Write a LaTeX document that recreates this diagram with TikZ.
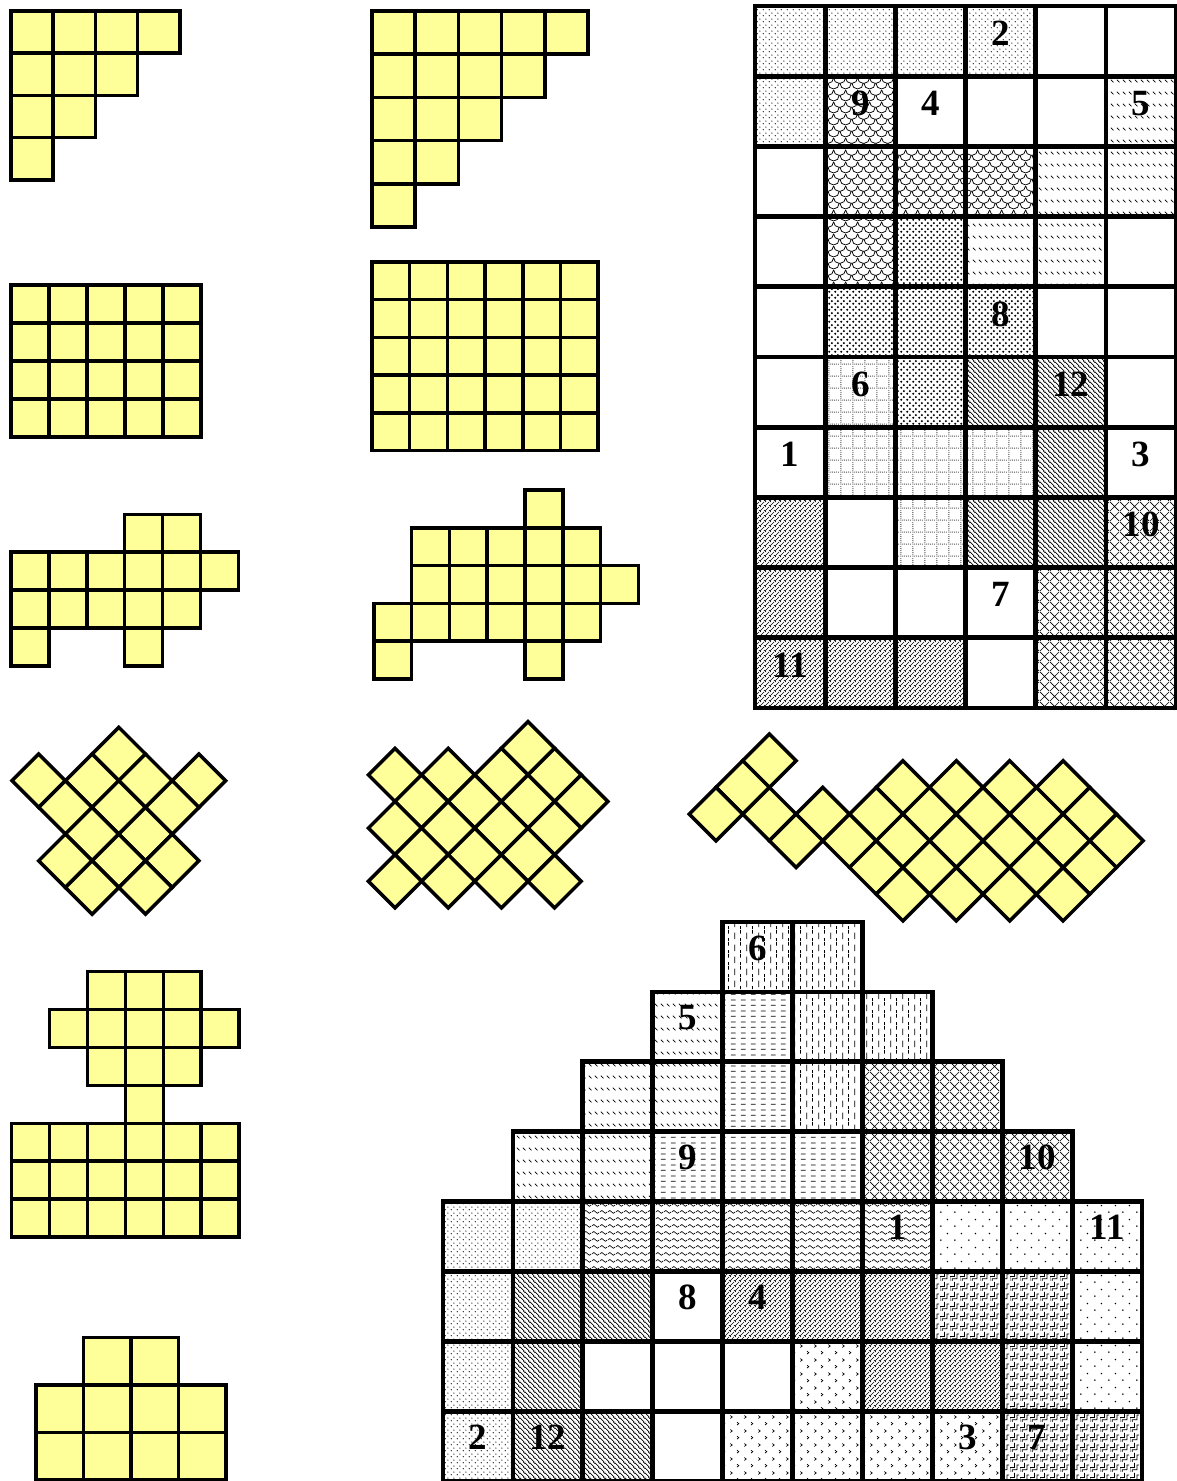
\documentclass[tikz,border=0pt]{standalone}
\usepackage{fontspec}
\setmainfont{Liberation Serif}
\usetikzlibrary{patterns}
\definecolor{yelc}{RGB}{255,255,153}

% ---------- custom patterns ----------
\pgfdeclarepatternformonly{fdots}{\pgfpointorigin}{\pgfpoint{6pt}{6pt}}{\pgfpoint{6pt}{6pt}}{%
  \pgfpathcircle{\pgfpoint{1.5pt}{1.5pt}}{0.7pt}%
  \pgfpathcircle{\pgfpoint{4.5pt}{4.5pt}}{0.7pt}%
  \pgfusepath{fill}}
\pgfdeclarepatternformonly{bdots}{\pgfpointorigin}{\pgfpoint{6pt}{6pt}}{\pgfpoint{6pt}{6pt}}{%
  \pgfpathcircle{\pgfpoint{1.5pt}{1.5pt}}{1.3pt}%
  \pgfpathcircle{\pgfpoint{4.5pt}{4.5pt}}{1.3pt}%
  \pgfusepath{fill}}
\pgfdeclarepatternformonly{sdots}{\pgfpointorigin}{\pgfpoint{14pt}{14pt}}{\pgfpoint{14pt}{14pt}}{%
  \pgfpathcircle{\pgfpoint{3pt}{3pt}}{0.9pt}%
  \pgfpathcircle{\pgfpoint{10pt}{10pt}}{0.9pt}%
  \pgfusepath{fill}}
\pgfdeclarepatternformonly{gdots}{\pgfpointorigin}{\pgfpoint{12pt}{12pt}}{\pgfpoint{12pt}{12pt}}{%
  \pgfpathcircle{\pgfpoint{1pt}{1pt}}{0.55pt}%
  \pgfpathcircle{\pgfpoint{1pt}{3pt}}{0.55pt}%
  \pgfpathcircle{\pgfpoint{1pt}{5pt}}{0.55pt}%
  \pgfpathcircle{\pgfpoint{1pt}{7pt}}{0.55pt}%
  \pgfpathcircle{\pgfpoint{1pt}{9pt}}{0.55pt}%
  \pgfpathcircle{\pgfpoint{1pt}{11pt}}{0.55pt}%
  \pgfpathcircle{\pgfpoint{3pt}{1pt}}{0.55pt}%
  \pgfpathcircle{\pgfpoint{5pt}{1pt}}{0.55pt}%
  \pgfpathcircle{\pgfpoint{7pt}{1pt}}{0.55pt}%
  \pgfpathcircle{\pgfpoint{9pt}{1pt}}{0.55pt}%
  \pgfpathcircle{\pgfpoint{11pt}{1pt}}{0.55pt}%
  \pgfusepath{fill}}
\pgfdeclarepatternformonly{scales}{\pgfpointorigin}{\pgfpoint{12pt}{12pt}}{\pgfpoint{12pt}{12pt}}{%
  \pgfsetlinewidth{0.8pt}%
  \pgfpathmoveto{\pgfpoint{0pt}{6pt}}\pgfpatharc{180}{360}{6pt}%
  \pgfpathmoveto{\pgfpoint{-6pt}{12pt}}\pgfpatharc{180}{360}{6pt}%
  \pgfpathmoveto{\pgfpoint{6pt}{12pt}}\pgfpatharc{180}{360}{6pt}%
  \pgfusepath{stroke}}
\pgfdeclarepatternformonly{ddash}{\pgfpointorigin}{\pgfpoint{6pt}{12pt}}{\pgfpoint{6pt}{12pt}}{%
  \pgfsetlinewidth{0.8pt}%
  \pgfpathmoveto{\pgfpoint{1pt}{10pt}}\pgfpathlineto{\pgfpoint{4pt}{7pt}}%
  \pgfusepath{stroke}}
\pgfdeclarepatternformonly{vdash}{\pgfpointorigin}{\pgfpoint{12pt}{12pt}}{\pgfpoint{12pt}{12pt}}{%
  \pgfsetlinewidth{0.8pt}%
  \pgfpathmoveto{\pgfpoint{3pt}{2pt}}\pgfpathlineto{\pgfpoint{3pt}{9pt}}%
  \pgfpathmoveto{\pgfpoint{9pt}{8pt}}\pgfpathlineto{\pgfpoint{9pt}{12pt}}%
  \pgfpathmoveto{\pgfpoint{9pt}{0pt}}\pgfpathlineto{\pgfpoint{9pt}{3pt}}%
  \pgfusepath{stroke}}
\pgfdeclarepatternformonly{hdash}{\pgfpointorigin}{\pgfpoint{10pt}{11pt}}{\pgfpoint{10pt}{11pt}}{%
  \pgfsetlinewidth{0.8pt}%
  \pgfpathmoveto{\pgfpoint{1pt}{3pt}}\pgfpathlineto{\pgfpoint{6pt}{3pt}}%
  \pgfpathmoveto{\pgfpoint{1pt}{8.5pt}}\pgfpathlineto{\pgfpoint{6pt}{8.5pt}}%
  \pgfusepath{stroke}}
\pgfdeclarepatternformonly{wave}{\pgfpointorigin}{\pgfpoint{8pt}{7pt}}{\pgfpoint{8pt}{7pt}}{%
  \pgfsetlinewidth{0.7pt}%
  \pgfpathmoveto{\pgfpoint{0pt}{3.5pt}}%
  \pgfpathsine{\pgfpoint{2pt}{1.6pt}}%
  \pgfpathcosine{\pgfpoint{2pt}{-1.6pt}}%
  \pgfpathsine{\pgfpoint{2pt}{-1.6pt}}%
  \pgfpathcosine{\pgfpoint{2pt}{1.6pt}}%
  \pgfusepath{stroke}}
\pgfdeclarepatternformonly{chev}{\pgfpointorigin}{\pgfpoint{14pt}{14pt}}{\pgfpoint{14pt}{14pt}}{%
  \pgfsetlinewidth{0.7pt}%
  \pgfpathmoveto{\pgfpoint{2.5pt}{11pt}}\pgfpathlineto{\pgfpoint{4.5pt}{9.5pt}}\pgfpathlineto{\pgfpoint{2.5pt}{8pt}}%
  \pgfpathmoveto{\pgfpoint{9.5pt}{4pt}}\pgfpathlineto{\pgfpoint{11.5pt}{2.5pt}}\pgfpathlineto{\pgfpoint{9.5pt}{1pt}}%
  \pgfusepath{stroke}}
\pgfdeclarepatternformonly{maze}{\pgfpointorigin}{\pgfpoint{10pt}{10pt}}{\pgfpoint{10pt}{10pt}}{%
  \pgfsetlinewidth{0.8pt}%
  \pgfpathmoveto{\pgfpoint{0pt}{0pt}}\pgfpathlineto{\pgfpoint{0pt}{5pt}}\pgfpathlineto{\pgfpoint{5pt}{5pt}}\pgfpathlineto{\pgfpoint{5pt}{10pt}}%
  \pgfpathmoveto{\pgfpoint{2.5pt}{0pt}}\pgfpathlineto{\pgfpoint{2.5pt}{2.5pt}}\pgfpathlineto{\pgfpoint{7.5pt}{2.5pt}}\pgfpathlineto{\pgfpoint{7.5pt}{7.5pt}}\pgfpathlineto{\pgfpoint{10pt}{7.5pt}}%
  \pgfusepath{stroke}}
\pgfdeclarepatternformonly{nelines}{\pgfpoint{0pt}{0pt}}{\pgfpoint{5pt}{5pt}}{\pgfpoint{5pt}{5pt}}{%
  \pgfsetlinewidth{0.8pt}%
  \pgfpathmoveto{\pgfpoint{0pt}{0pt}}\pgfpathlineto{\pgfpoint{5pt}{5pt}}%
  \pgfpathmoveto{\pgfpoint{-1pt}{4pt}}\pgfpathlineto{\pgfpoint{1pt}{6pt}}%
  \pgfpathmoveto{\pgfpoint{4pt}{-1pt}}\pgfpathlineto{\pgfpoint{6pt}{1pt}}%
  \pgfusepath{stroke}}
\pgfdeclarepatternformonly{nwlines}{\pgfpoint{0pt}{0pt}}{\pgfpoint{5pt}{5pt}}{\pgfpoint{5pt}{5pt}}{%
  \pgfsetlinewidth{0.8pt}%
  \pgfpathmoveto{\pgfpoint{0pt}{5pt}}\pgfpathlineto{\pgfpoint{5pt}{0pt}}%
  \pgfpathmoveto{\pgfpoint{-1pt}{1pt}}\pgfpathlineto{\pgfpoint{1pt}{-1pt}}%
  \pgfpathmoveto{\pgfpoint{4pt}{6pt}}\pgfpathlineto{\pgfpoint{6pt}{4pt}}%
  \pgfusepath{stroke}}
\pgfdeclarepatternformonly{dhatch}{\pgfpointorigin}{\pgfpoint{10pt}{10pt}}{\pgfpoint{10pt}{10pt}}{%
  \pgfsetlinewidth{0.7pt}%
  \pgfpathmoveto{\pgfpoint{0pt}{0pt}}\pgfpathlineto{\pgfpoint{10pt}{10pt}}%
  \pgfpathmoveto{\pgfpoint{0pt}{10pt}}\pgfpathlineto{\pgfpoint{10pt}{0pt}}%
  \pgfusepath{stroke}}

\tikzset{
  yel/.style={draw=black, fill=yelc, line width=3.5pt, line join=miter},
  bline/.style={draw=black, line width=4.8pt},
  lab/.style={font=\fontsize{37}{37}\selectfont\bfseries, inner sep=0pt},
  Pwh/.style={},
  Pfd/.style={pattern=fdots},
  Pbd/.style={pattern=bdots},
  Psd/.style={pattern=sdots},
  Pgd/.style={pattern=gdots},
  Psc/.style={pattern=scales},
  Pdd/.style={pattern=ddash},
  Pvd/.style={pattern=vdash},
  Phd/.style={pattern=hdash},
  Pwv/.style={pattern=wave},
  Pcv/.style={pattern=chev},
  Pmz/.style={pattern=maze},
  Pne/.style={pattern=nelines},
  Pnw/.style={pattern=nwlines},
  Pch/.style={pattern=dhatch}
}

\newcommand{\Ysq}[3]{\draw[yel] (#1,#2) rectangle ++(#3,#3);}
\newcommand{\Ydia}[3]{\draw[yel] (#1,#2) -- ++(#3,-#3) -- ++(#3,#3) -- ++(-#3,#3) -- cycle;}

\begin{document}
\begin{tikzpicture}[x=1pt,y=-1pt]
\useasboundingbox (0,0) rectangle (1176,1481);

% ---------- yellow square shapes ----------
\foreach \r/\cs in {0/{0,1,2,3},1/{0,1,2},2/{0,1},3/{0}}
  \foreach \c in \cs {\Ysq{11+\c*42.2}{11+\r*42.2}{42.2}}
\foreach \r/\cs in {0/{0,1,2,3,4},1/{0,1,2,3},2/{0,1,2},3/{0,1},4/{0}}
  \foreach \c in \cs {\Ysq{372+\c*43.2}{11+\r*43.2}{43.2}}
\foreach \r in {0,...,3}
  \foreach \c in {0,...,4} {\Ysq{11+\c*38}{285+\r*38}{38}}
\foreach \r in {0,...,4}
  \foreach \c in {0,...,5} {\Ysq{372+\c*37.7}{262+\r*37.7}{37.7}}
\foreach \r/\cs in {0/{3,4},1/{0,1,2,3,4,5},2/{0,1,2,3,4},3/{0,3}}
  \foreach \c in \cs {\Ysq{11+\c*37.9}{514.3+\r*37.9}{37.9}}
\foreach \r/\cs in {0/{4},1/{1,2,3,4,5},2/{1,2,3,4,5,6},3/{0,1,2,3,4,5},4/{0,4}}
  \foreach \c in \cs {\Ysq{373.8+\c*37.8}{490+\r*37.8}{37.8}}
\foreach \r/\cs in {0/{2,3,4},1/{1,2,3,4,5},2/{2,3,4},3/{3},4/{0,1,2,3,4,5},5/{0,1,2,3,4,5},6/{0,1,2,3,4,5}}
  \foreach \c in \cs {\Ysq{11.7+\c*37.9}{971.7+\r*37.9}{37.9}}
\foreach \r/\cs in {0/{1,2},1/{0,1,2,3},2/{0,1,2,3}}
  \foreach \c in \cs {\Ysq{36+\c*47.5}{1337.3+\r*47.5}{47.5}}

% ---------- yellow diamond shapes ----------
\foreach \i/\j in {4/1,1/2,3/2,5/2,7/2,2/3,4/3,6/3,3/4,5/4,2/5,4/5,6/5,3/6,5/6}
  {\Ydia{12+\i*26.7-26.7}{727.3+\j*26.7}{26.7}}
\foreach \i/\j in {6/1,1/2,3/2,5/2,7/2,2/3,4/3,6/3,8/3,1/4,3/4,5/4,7/4,2/5,4/5,6/5,1/6,3/6,5/6,7/6}
  {\Ydia{368.4+\i*26.6-26.6}{721.7+\j*26.6}{26.6}}
\foreach \i/\j in {3/1,2/2,8/2,10/2,12/2,14/2,1/3,3/3,5/3,7/3,9/3,11/3,13/3,15/3,4/4,6/4,8/4,10/4,12/4,14/4,16/4,7/5,9/5,11/5,13/5,15/5,8/6,10/6,12/6,14/6}
  {\Ydia{689.3+\i*26.7-26.7}{734+\j*26.7}{26.7}}

% ---------- top right 6x10 solution ----------
\def\topgrid{{Pfd,Pfd,Pfd,Pfd,Pwh,Pwh},{Pfd,Psc,Pwh,Pwh,Pwh,Pdd},{Pwh,Psc,Psc,Psc,Pdd,Pdd},{Pwh,Psc,Pbd,Pdd,Pdd,Pwh},{Pwh,Pbd,Pbd,Pbd,Pwh,Pwh},{Pwh,Pgd,Pbd,Pnw,Pnw,Pwh},{Pwh,Pgd,Pgd,Pgd,Pnw,Pwh},{Pne,Pwh,Pgd,Pnw,Pnw,Pch},{Pne,Pwh,Pwh,Pwh,Pch,Pch},{Pne,Pne,Pne,Pwh,Pch,Pch}}
\foreach \row [count=\r from 0] in \topgrid
  \foreach \p [count=\c from 0] in \row
    {\path[\p] (755+\c*70.2,6+\r*70.2) rectangle ++(70.2,70.2);}
\foreach \r in {0,...,9}
  \foreach \c in {0,...,5}
    {\draw[bline] (755+\c*70.2,6+\r*70.2) rectangle ++(70.2,70.2);}
\foreach \t/\c/\r in {2/3/0,9/1/1,4/2/1,5/5/1,8/3/4,6/1/5,12/4/5,1/0/6,3/5/6,10/5/7,7/3/8,11/0/9}
  {\node[lab] (t\t) at (755+\c*70.2+35.1,6+\r*70.2+35.1-8) {\t};}

% ---------- bottom pyramid solution ----------
\def\pyrgrid{0/4/{Pvd,Pvd},1/3/{Pdd,Phd,Pvd,Pvd},2/2/{Pdd,Pdd,Phd,Pvd,Pch,Pch},3/1/{Pdd,Pdd,Phd,Phd,Phd,Pch,Pch,Pch},4/0/{Pfd,Pfd,Pwv,Pwv,Pwv,Pwv,Pwv,Psd,Psd,Psd},5/0/{Pfd,Pnw,Pnw,Pwh,Pne,Pne,Pne,Pmz,Pmz,Psd},6/0/{Pfd,Pnw,Pwh,Pwh,Pwh,Pcv,Pne,Pne,Pmz,Psd},7/0/{Pfd,Pnw,Pnw,Pwh,Pcv,Pcv,Pcv,Pcv,Pmz,Pmz}}
\foreach \r/\st/\row in \pyrgrid
  \foreach \p [count=\c from \st] in \row
    {\path[\p] (443+\c*69.9,922+\r*69.9) rectangle ++(69.9,69.9);}
\foreach \r/\st/\row in \pyrgrid
  \foreach \p [count=\c from \st] in \row
    {\draw[bline] (443+\c*69.9,922+\r*69.9) rectangle ++(69.9,69.9);}
\foreach \t/\c/\r in {6/4/0,5/3/1,9/3/3,10/8/3,1/6/4,11/9/4,8/3/5,4/4/5,2/0/7,12/1/7,3/7/7,7/8/7}
  {\node[lab] (p\t) at (443+\c*69.9+35,922+\r*69.9+35-9) {\t};}
\end{tikzpicture}
\end{document}
